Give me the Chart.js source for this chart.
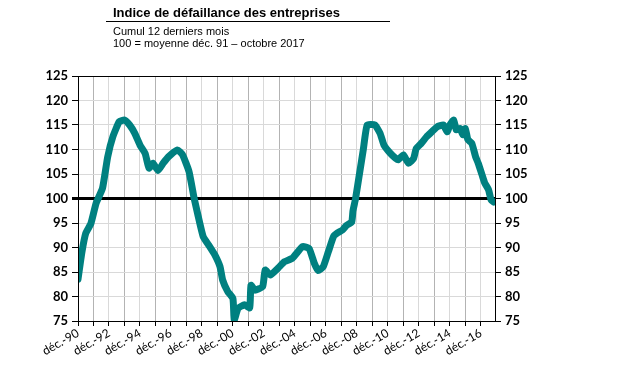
<!DOCTYPE html>
<html>
<head>
<meta charset="utf-8">
<script src="https://cdn.jsdelivr.net/npm/chart.js@4/dist/chart.umd.min.js"></script>
<style>
  body { margin: 0; background: #fff; }
  #wrap { position: relative; width: 617px; height: 371px; }
  #chart { position: absolute; left: 0; top: 0; }
  .titre { position: absolute; left: 113px; top: 5px; font: bold 13px "Liberation Sans", Arial, sans-serif; }
  .trait { position: absolute; left: 106px; top: 21px; width: 284px; height: 1px; background: #000; }
  .sous { position: absolute; left: 113px; font: 11px "Liberation Sans", Arial, sans-serif; }
</style>
</head>
<body>
<div id="wrap">
  <canvas id="chart" width="617" height="371"></canvas>
  <div class="titre">Indice de défaillance des entreprises</div>
  <div class="trait"></div>
  <div class="sous" style="top:25px">Cumul 12 derniers mois</div>
  <div class="sous" style="top:37px">100 = moyenne déc. 91 – octobre 2017</div>
</div>
<script>
// mois écoulés depuis déc. 1990
const mois = [0, 3, 6, 10, 14, 19, 23, 27, 32, 36, 40, 44, 48, 52, 55, 58, 62, 66, 70, 77,
  81, 86, 90, 93, 97, 102, 106, 110, 112, 116, 120, 121, 124, 129, 133, 134, 137, 143, 145, 149,
  155, 160, 166, 174, 179, 183, 186, 190, 194, 198, 201, 205, 208, 212, 213, 215, 218, 221, 224, 230,
  234, 237, 242, 246, 248, 252, 256, 260, 262, 266, 270, 274, 278, 283, 286, 288, 291, 293, 296, 298,
  300, 302, 305, 308, 310, 313, 315, 318, 320, 322];
const indice = [83.5, 89, 92.9, 94.9, 99, 102.1, 108.5, 112.6, 115.7, 116, 115, 113.3, 110.9, 109.2, 106.2, 107.2, 105.7, 107.2, 108.5, 109.9,
  108.9, 105.5, 100, 96.5, 92.2, 90.2, 88.5, 86.1, 83.4, 81, 79.6, 75.2, 77.6, 78.3, 77.7, 82.3, 81.3, 82, 85.4, 84.4,
  85.8, 87.1, 87.8, 90.2, 89.8, 86.8, 85.3, 86.1, 89.2, 92.3, 93, 93.6, 94.5, 95.2, 97.5, 100, 105, 110, 115, 115,
  113.3, 110.9, 109.2, 108.2, 107.9, 108.9, 107.2, 108.2, 110.2, 111.3, 112.6, 113.6, 114.6, 115, 113.6, 115, 116, 114, 114.3, 113,
  114.3, 112, 111.3, 108.5, 107.2, 104.8, 103.2, 101.8, 99.7, 99.3];
const anneesLabels = ['déc.-90', 'déc.-92', 'déc.-94', 'déc.-96', 'déc.-98', 'déc.-00', 'déc.-02',
  'déc.-04', 'déc.-06', 'déc.-08', 'déc.-10', 'déc.-12', 'déc.-14', 'déc.-16'];
const reference = 100;

const cadre = {
  id: 'cadre',
  afterDraw(chart) {
    const a = chart.chartArea, ctx = chart.ctx;
    ctx.save();
    ctx.strokeStyle = '#000';
    ctx.lineWidth = 1;
    ctx.strokeRect(a.left + 0.5, a.top + 0.5, a.right - a.left, a.bottom - a.top);
    ctx.restore();
  }
};

const yTicks = { stepSize: 5, font: { family: 'Lato', size: 13, weight: 'bold' }, color: '#000', padding: 4 };

new Chart(document.getElementById('chart'), {
  type: 'line',
  data: {
    datasets: [{
      data: mois.map((m, i) => ({ x: m, y: indice[i] })),
      borderColor: '#008080',
      borderWidth: 7,
      pointRadius: 0,
      tension: 0.15,
      borderJoinStyle: 'round',
      borderCapStyle: 'round'
    }]
  },
  options: {
    responsive: false,
    animation: false,
    layout: { padding: { top: 76, left: 0, right: 0, bottom: 0 } },
    plugins: { legend: { display: false }, tooltip: { enabled: false } },
    scales: {
      x: {
        type: 'linear', min: 0, max: 323,
        afterFit(s) { s.height = 50; },
        afterBuildTicks(s) { s.ticks = []; for (let v = 0; v <= 312; v += 12) s.ticks.push({ value: v }); },
        ticks: {
          autoSkip: false, maxRotation: 30, minRotation: 30, padding: 0,
          font: { family: 'Lato', size: 12 }, color: '#000',
          callback: v => (v % 24 === 0 ? anneesLabels[v / 24] : '')
        },
        grid: {
          color: c => (c.tick && c.tick.value % 24 === 0 ? '#d9d9d9' : '#b3b3b3'),
          tickColor: '#000', tickLength: 5
        },
        border: { color: '#000' }
      },
      y: {
        position: 'left', min: 75, max: 125,
        afterFit(s) { s.width = 78; },
        ticks: yTicks,
        grid: {
          color: c => (c.tick && c.tick.value === reference ? '#000' : '#d9d9d9'),
          lineWidth: c => (c.tick && c.tick.value === reference ? 3 : 1),
          tickColor: '#000', tickLength: 6
        },
        border: { color: '#000' }
      },
      y2: {
        position: 'right', min: 75, max: 125,
        afterFit(s) { s.width = 122; },
        ticks: yTicks,
        grid: { drawOnChartArea: false, tickColor: '#000', tickLength: 6 },
        border: { color: '#000' }
      }
    }
  },
  plugins: [cadre]
});
</script>
</body>
</html>
